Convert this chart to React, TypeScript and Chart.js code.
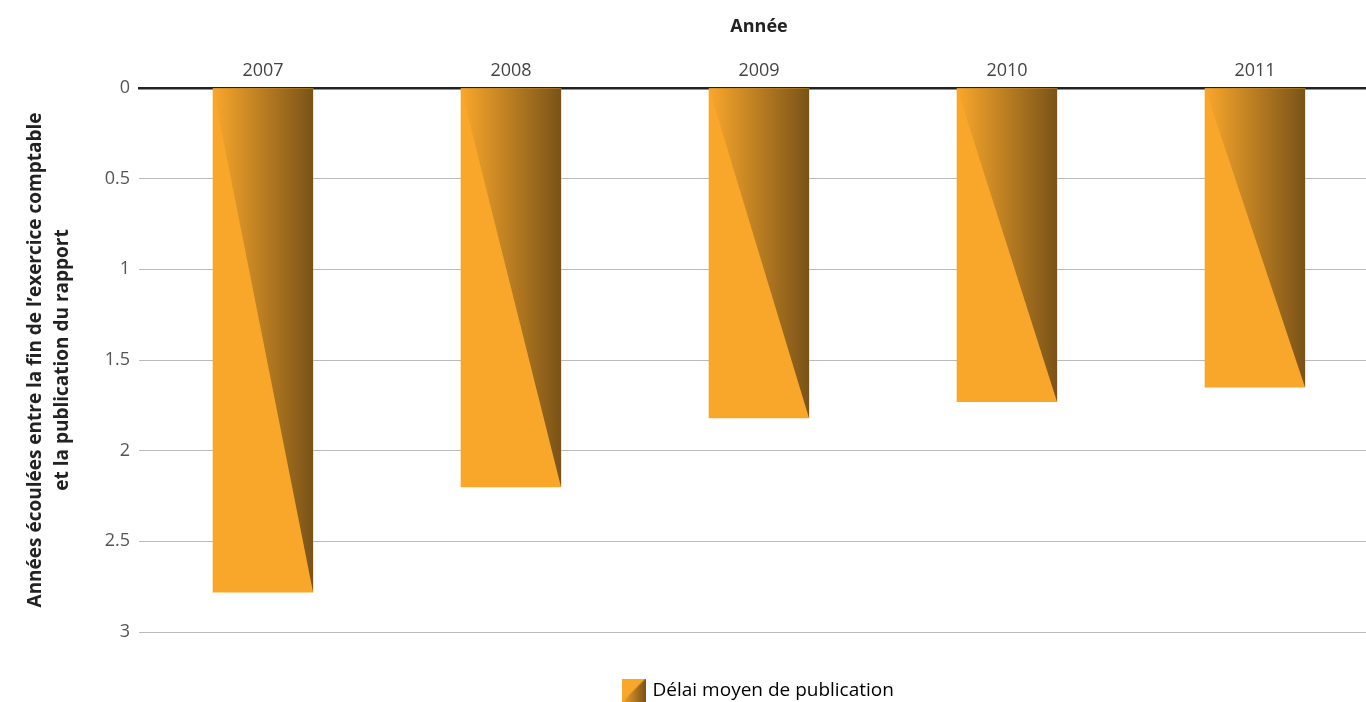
import React, { useEffect, useRef } from "react";
import { Chart, registerables } from "chart.js";

Chart.register(...registerables);

const years = ["2007", "2008", "2009", "2010", "2011"];
const delays = [2.78, 2.2, 1.82, 1.73, 1.65];
const yTickValues = [0, 0.5, 1, 1.5, 2, 2.5, 3];
const seriesLabel = "Délai moyen de publication";
const xTitle = "Année";
const yTitle = ["Années écoulées entre la fin de l’exercice comptable", "et la publication du rapport"];

const ORANGE = "#F9A72B";
const BROWN = "#7A5318";
const FONT = "'Open Sans', 'Noto Sans', sans-serif";

const CANVAS_W = 1380;
const CANVAS_H = 705;

function makeLegendIcon(): HTMLCanvasElement {
  const c = document.createElement("canvas");
  c.width = 24;
  c.height = 24;
  const g = c.getContext("2d")!;
  g.fillStyle = ORANGE;
  g.fillRect(0, 0, 24, 24);
  const gr = g.createLinearGradient(0, 0, 24, 0);
  gr.addColorStop(0, ORANGE);
  gr.addColorStop(1, BROWN);
  g.fillStyle = gr;
  g.beginPath();
  g.moveTo(24, 0);
  g.lineTo(24, 24);
  g.lineTo(0, 24);
  g.closePath();
  g.fill();
  return c;
}

const trianglePlugin = {
  id: "gradTriangle",
  afterDatasetsDraw(chart: any) {
    const ctx = chart.ctx;
    const meta = chart.getDatasetMeta(0);
    meta.data.forEach((bar: any) => {
      const { x, y, base, width } = bar.getProps(["x", "y", "base", "width"], true);
      const left = x - width / 2;
      const right = x + width / 2;
      const top = Math.min(y, base);
      const bottom = Math.max(y, base);
      const g = ctx.createLinearGradient(left, 0, right, 0);
      g.addColorStop(0, ORANGE);
      g.addColorStop(1, BROWN);
      ctx.save();
      ctx.fillStyle = g;
      ctx.beginPath();
      ctx.moveTo(left, top);
      ctx.lineTo(right, top);
      ctx.lineTo(right, bottom);
      ctx.closePath();
      ctx.fill();
      ctx.restore();
    });
  },
};

// centre the legend under the plot area, as in the reference
const legendShiftPlugin = {
  id: "legendShift",
  afterLayout(chart: any) {
    const lg = chart.legend;
    if (!lg) return;
    lg.left = chart.chartArea.left;
    lg.right = chart.chartArea.right;
    lg.top += 5;
    lg.bottom += 5;
  },
};

export default function App() {
  const ref = useRef<HTMLCanvasElement | null>(null);

  useEffect(() => {
    if (!ref.current) return;
    const icon = makeLegendIcon();
    const chart = new Chart(ref.current, {
      type: "bar",
      data: {
        labels: years,
        datasets: [
          {
            label: seriesLabel,
            data: delays,
            backgroundColor: ORANGE,
            borderWidth: 0,
            barThickness: 100,
          },
        ],
      },
      options: {
        animation: false,
        responsive: false,
        maintainAspectRatio: false,
        devicePixelRatio: 1,
        layout: { padding: { left: 0, right: 1, top: 0, bottom: 0 } },
        plugins: {
          tooltip: { enabled: false },
          legend: {
            position: "bottom",
            labels: {
              usePointStyle: true,
              padding: 44,
              color: "#444",
              font: { family: FONT, size: 19 },
              generateLabels: () => [
                {
                  text: seriesLabel,
                  pointStyle: icon,
                  fillStyle: ORANGE,
                  strokeStyle: ORANGE,
                  lineWidth: 0,
                  hidden: false,
                  datasetIndex: 0,
                } as any,
              ],
            },
          },
        },
        scales: {
          x: {
            position: "top",
            z: 1,
            grid: { display: false, drawTicks: false },
            border: { display: true, color: "#222", width: 2.5 },
            ticks: {
              color: "#444",
              padding: 6,
              font: { family: FONT, size: 18 },
            },
            title: {
              display: true,
              text: xTitle,
              color: "#222",
              padding: { top: 16, bottom: 0 },
              font: { family: FONT, size: 18, weight: "bold" },
            },
            afterFit: (s: any) => {
              s.height = 88;
            },
          },
          y: {
            reverse: true,
            min: 0,
            max: 3,
            afterBuildTicks: (s: any) => {
              s.ticks = yTickValues.map((v) => ({ value: v }));
            },
            grid: { color: "#bbbbbb", lineWidth: 1, drawTicks: false },
            border: { display: false },
            ticks: {
              color: "#555",
              padding: 9,
              font: { family: FONT, size: 18 },
              callback: (v: any) => String(v),
            },
            title: {
              display: true,
              text: yTitle,
              color: "#222",
              padding: { top: 22, bottom: 0 },
              font: { family: FONT, size: 19, weight: "bold", lineHeight: 1.42 },
            },
            afterFit: (s: any) => {
              s.width = 139;
            },
          },
        },
      },
      plugins: [trianglePlugin, legendShiftPlugin],
    });
    return () => chart.destroy();
  }, []);

  return (
    <div
      style={{
        position: "fixed",
        left: 0,
        top: 0,
        width: 1366,
        height: 702,
        overflow: "hidden",
        background: "#fff",
      }}
    >
      <canvas ref={ref} width={CANVAS_W} height={CANVAS_H} style={{ display: "block" }} />
    </div>
  );
}
